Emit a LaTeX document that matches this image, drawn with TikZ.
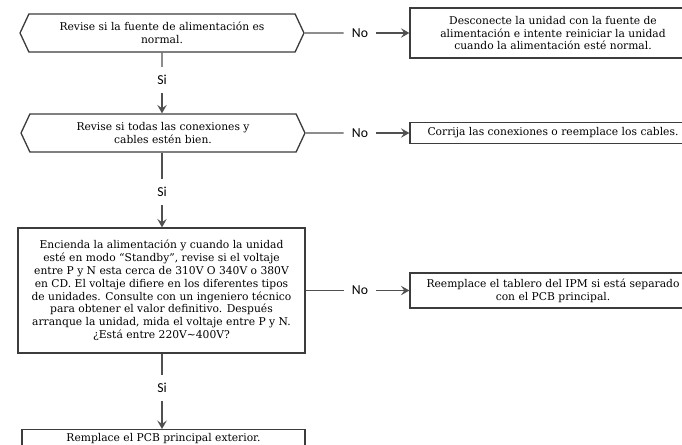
\documentclass[tikz,border=0pt]{standalone}
\usepackage{fontspec}
\setmainfont{DejaVu Serif}
\newfontfamily\answerfont{Carlito}
\usetikzlibrary{arrows.meta,shapes.symbols}
\definecolor{edgegray}{HTML}{3C3C3C}
\definecolor{linegray}{HTML}{505050}
\tikzset{
  boxtext/.style={align=center, font=\fontsize{6.1}{7.3}\selectfont},
  hexbox/.style={boxtext, signal, signal to=west and east, signal pointer angle=130,
    draw=edgegray, line width=0.75pt, minimum width=5.68cm, minimum height=0.76cm, inner sep=0pt},
  stepbox/.style={boxtext, rectangle, draw=edgegray, line width=0.75pt, inner sep=0pt},
  answer/.style={font=\answerfont\fontsize{7.8}{9}\selectfont, inner sep=4.6pt},
  flow/.style={draw=linegray, line width=0.7pt},
  flowarrow/.style={flow, -{Stealth[length=4.8pt,width=5.4pt,inset=1.9pt]}}
}
\begin{document}
\begin{tikzpicture}[x=0.02cm, y=-0.02cm]
  \useasboundingbox (0,0) rectangle (682,444);
  \clip (0,0) rectangle (682,444);
  % left column: checks
  \node[hexbox] (power) at (162,33) {Revise si la fuente de alimentación es\\normal.};
  \node[hexbox] (wires) at (163,133) {Revise si todas las conexiones y\\cables estén bien.};
  \node[stepbox, minimum width=5.74cm, minimum height=2.5cm] (volt) at (161.5,290.5)
    {Encienda la alimentación y cuando la unidad\\
     esté en modo “Standby”, revise si el voltaje\\
     entre P y N esta cerca de 310V O 340V o 380V\\
     en CD. El voltaje difiere en los diferentes tipos\\
     de unidades. Consulte con un ingeniero técnico\\
     para obtener el valor definitivo. Después\\
     arranque la unidad, mida el voltaje entre P y N.\\
     ¿Está entre 220V\textasciitilde 400V?};
  \node[stepbox, minimum width=5.66cm, minimum height=0.34cm, anchor=north] (pcb) at (163.5,429)
    {Remplace el PCB principal exterior.};
  % right column: fixes
  \node[stepbox, minimum width=5.72cm, minimum height=1cm] (restart) at (553,33)
    {Desconecte la unidad con la fuente de\\alimentación e intente reiniciar la unidad\\cuando la alimentación esté normal.};
  \node[stepbox, minimum width=5.72cm, minimum height=0.42cm] (cables) at (553,133)
    {Corrija las conexiones o reemplace los cables.};
  \node[stepbox, minimum width=5.72cm, minimum height=0.7cm] (ipm) at (553,290.5)
    {Reemplace el tablero del IPM si está separado\\con el PCB principal.};
  % answers
  \node[answer] (si1) at (162,80) {Si};
  \node[answer] (si2) at (162,192) {Si};
  \node[answer] (si3) at (162,388) {Si};
  \node[answer] (no1) at (360,33) {No};
  \node[answer] (no2) at (360,133) {No};
  \node[answer] (no3) at (360,290.5) {No};
  % connectors
  \draw[flow] (power) -- (si1);
  \draw[flowarrow] (si1) -- (si1 |- wires.north);
  \draw[flow] (si2 |- wires.south) -- (si2);
  \draw[flowarrow] (si2) -- (si2 |- volt.north);
  \draw[flow] (si3 |- volt.south) -- (si3);
  \draw[flowarrow] (si3) -- (si3 |- pcb.north);
  \draw[flow] (power) -- (no1);
  \draw[flowarrow] (no1) -- (restart);
  \draw[flow] (wires) -- (no2);
  \draw[flowarrow] (no2) -- (cables);
  \draw[flow] (volt) -- (no3);
  \draw[flowarrow] (no3) -- (ipm);
\end{tikzpicture}
\end{document}
